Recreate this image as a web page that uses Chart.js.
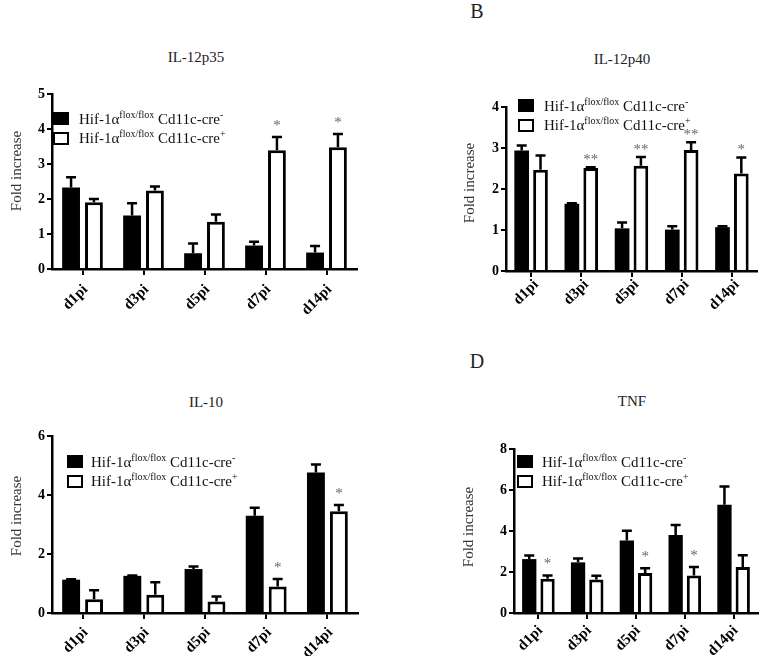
<!DOCTYPE html>
<html>
<head>
<meta charset="utf-8">
<script src="https://cdn.jsdelivr.net/npm/chart.js@4.4.0/dist/chart.umd.min.js"></script>
<style>
  body { margin: 0; background: #fff; font-family: 'Liberation Serif', 'Times New Roman', serif; }
  #page { position: relative; width: 765px; height: 656px; overflow: hidden; }
  canvas { position: absolute; }
  .txt { position: absolute; white-space: nowrap; color: #222; line-height: 1; }
  .title { font-size: 15px; transform: translate(-50%, -50%); }
  .ytitle { font-size: 15px; color: #333; transform: translate(-50%, -50%) rotate(-90deg); }
  .letter { font-size: 20px; transform: translate(-50%, -50%); }
  .sw { position: absolute; width: 16px; height: 13px; box-sizing: border-box; border: 2px solid #000; }
  .row { position: absolute; font-size: 15px; line-height: 15px; white-space: nowrap; color: #111; }
  .row sup { font-size: 10px; line-height: 0; }
</style>
</head>
<body>
<div id="page">
  <canvas id="c1"></canvas>
  <canvas id="c2"></canvas>
  <canvas id="c3"></canvas>
  <canvas id="c4"></canvas>

  <div class="txt title" style="left:196px; top:57px;">IL-12p35</div>
  <div class="txt title" style="left:622px; top:59px;">IL-12p40</div>
  <div class="txt title" style="left:206px; top:402px;">IL-10</div>
  <div class="txt title" style="left:632px; top:401px;">TNF</div>

  <div class="txt letter" style="left:477px; top:11px;">B</div>
  <div class="txt letter" style="left:477px; top:361px;">D</div>

  <div class="txt ytitle" style="left:16px; top:171px;">Fold increase</div>
  <div class="txt ytitle" style="left:469px; top:183px;">Fold increase</div>
  <div class="txt ytitle" style="left:16px; top:516px;">Fold increase</div>
  <div class="txt ytitle" style="left:468px; top:527px;">Fold increase</div>
</div>

<script>
// time points after infection
const days = ['d1pi', 'd3pi', 'd5pi', 'd7pi', 'd14pi'];
const seriesNames = ['Hif-1α<sup>flox/flox</sup> Cd11c-cre<sup>-</sup>',
                     'Hif-1α<sup>flox/flox</sup> Cd11c-cre<sup>+</sup>'];

// IL-12p35
const p35Neg = [2.33, 1.53, 0.45, 0.67, 0.47];
const p35NegErr = [0.29, 0.35, 0.28, 0.11, 0.19];
const p35Pos = [1.91, 2.24, 1.35, 3.39, 3.48];
const p35PosErr = [0.09, 0.12, 0.21, 0.38, 0.38];
const p35Stars = ['', '', '', '*', '*'];

// IL-12p40
const p40Neg = [2.94, 1.64, 1.04, 1.01, 1.07];
const p40NegErr = [0.12, 0.01, 0.14, 0.08, 0.02];
const p40Pos = [2.47, 2.51, 2.57, 2.95, 2.38];
const p40PosErr = [0.35, 0.02, 0.21, 0.19, 0.39];
const p40Stars = ['', '**', '**', '**', '*'];

// IL-10
const il10Neg = [1.13, 1.26, 1.49, 3.30, 4.76];
const il10NegErr = [0.01, 0.01, 0.09, 0.27, 0.27];
const il10Pos = [0.47, 0.62, 0.39, 0.90, 3.45];
const il10PosErr = [0.30, 0.42, 0.17, 0.25, 0.21];
const il10Stars = ['', '', '', '*', '*'];

// TNF
const tnfNeg = [2.63, 2.47, 3.54, 3.81, 5.28];
const tnfNegErr = [0.18, 0.19, 0.47, 0.48, 0.89];
const tnfPos = [1.67, 1.64, 1.95, 1.83, 2.24];
const tnfPosErr = [0.16, 0.18, 0.23, 0.41, 0.58];
const tnfStars = ['*', '', '*', '*', ''];

// draws the upper error bars and the significance stars
const errorBars = {
    id: 'errorBars',
    afterDatasetsDraw(chart, args, opts) {
        const ctx = chart.ctx;
        const yScale = chart.scales.y;
        chart.data.datasets.forEach((ds, i) => {
            const meta = chart.getDatasetMeta(i);
            meta.data.forEach((bar, j) => {
                const top = yScale.getPixelForValue(ds.data[j] + ds.errors[j]);
                ctx.save();
                ctx.strokeStyle = '#000';
                ctx.lineWidth = 2.5;
                ctx.beginPath();
                ctx.moveTo(bar.x, bar.y);
                ctx.lineTo(bar.x, top);
                ctx.moveTo(bar.x - 5, top);
                ctx.lineTo(bar.x + 5, top);
                ctx.stroke();
                if (ds.stars && ds.stars[j]) {
                    ctx.fillStyle = '#666';
                    ctx.font = '15px "Liberation Serif"';
                    ctx.textAlign = 'center';
                    ctx.textBaseline = 'alphabetic';
                    ctx.fillText(ds.stars[j], bar.x, top - opts.gap + 7);
                }
                ctx.restore();
            });
        });
    }
};

function addLegend(sqX, sqY, textX) {
    const page = document.getElementById('page');
    [0, 1].forEach(k => {
        const y = sqY + k * 19.5;
        const sw = document.createElement('div');
        sw.className = 'sw';
        sw.style.left = sqX + 'px';
        sw.style.top = y + 'px';
        sw.style.background = k === 0 ? '#000' : '#fff';
        page.appendChild(sw);
        const row = document.createElement('div');
        row.className = 'row';
        row.style.left = textX + 'px';
        row.style.top = (y - 0.5) + 'px';
        row.innerHTML = seriesNames[k];
        page.appendChild(row);
    });
}

// box: canvas position; area: wanted plot area, both in page pixels
function drawPanel(id, box, area, lab, neg, negErr, pos, posErr, stars, yMax, yStep, starGap) {
    const canvas = document.getElementById(id);
    canvas.style.left = box.x + 'px';
    canvas.style.top = box.y + 'px';
    canvas.width = box.w;
    canvas.height = box.h;

    new Chart(canvas.getContext('2d'), {
        type: 'bar',
        data: {
            labels: days,
            datasets: [{
                data: neg,
                errors: negErr,
                backgroundColor: '#000',
                borderWidth: 0,
                categoryPercentage: 0.75,
                barPercentage: 0.78
            }, {
                data: pos,
                errors: posErr,
                stars: stars,
                backgroundColor: '#fff',
                borderColor: '#000',
                borderWidth: 3,
                categoryPercentage: 0.75,
                barPercentage: 0.78
            }]
        },
        options: {
            responsive: false,
            animation: false,
            devicePixelRatio: 1,
            layout: {
                padding: { top: area.top - box.y, right: box.x + box.w - area.right, left: 0, bottom: 0 }
            },
            plugins: {
                legend: { display: false },
                tooltip: { enabled: false },
                errorBars: { gap: starGap }
            },
            scales: {
                x: {
                    grid: { drawOnChartArea: false, offset: false, tickLength: 6, color: '#000', lineWidth: 2 },
                    border: { color: '#000', width: 2.5 },
                    ticks: {
                        color: '#000',
                        font: { family: 'Liberation Serif', size: 15, weight: 'bold' },
                        minRotation: 45,
                        maxRotation: 45,
                        padding: lab.pad,
                        labelOffset: lab.dx
                    },
                    afterFit(s) {
                        s.height = box.y + box.h - area.bottom;
                        s.paddingLeft = 0;
                        s.paddingRight = 0;
                    }
                },
                y: {
                    min: 0,
                    max: yMax,
                    grid: { drawOnChartArea: false, tickLength: 5, color: '#000', lineWidth: 2 },
                    border: { color: '#000', width: 2.5 },
                    ticks: {
                        stepSize: yStep,
                        color: '#000',
                        font: { family: 'Liberation Serif', size: 14, weight: 'bold' },
                        padding: 2
                    },
                    afterFit(s) {
                        s.width = area.left - box.x;
                        s.paddingTop = 0;
                        s.paddingBottom = 0;
                    }
                }
            }
        },
        plugins: [errorBars]
    });
}

drawPanel('c1', { x: 0, y: 80, w: 390, h: 260 }, { left: 52, top: 94, right: 357, bottom: 269 }, { pad: 6, dx: 3 },
    p35Neg, p35NegErr, p35Pos, p35PosErr, p35Stars, 5, 1, 14);
drawPanel('c2', { x: 420, y: 80, w: 345, h: 250 }, { left: 506, top: 107, right: 757, bottom: 271 }, { pad: -1, dx: 5 },
    p40Neg, p40NegErr, p40Pos, p40PosErr, p40Stars, 4, 1, 10);
drawPanel('c3', { x: 0, y: 420, w: 390, h: 236 }, { left: 52, top: 436, right: 358, bottom: 613 }, { pad: 5, dx: 3 },
    il10Neg, il10NegErr, il10Pos, il10PosErr, il10Stars, 6, 2, 14);
drawPanel('c4', { x: 420, y: 420, w: 345, h: 236 }, { left: 514, top: 449, right: 758, bottom: 613 }, { pad: 3, dx: 2 },
    tnfNeg, tnfNegErr, tnfPos, tnfPosErr, tnfStars, 8, 2, 14);

addLegend(53, 112, 79);
addLegend(518, 99, 544);
addLegend(67, 455, 91);
addLegend(517, 455, 542);
</script>
</body>
</html>
